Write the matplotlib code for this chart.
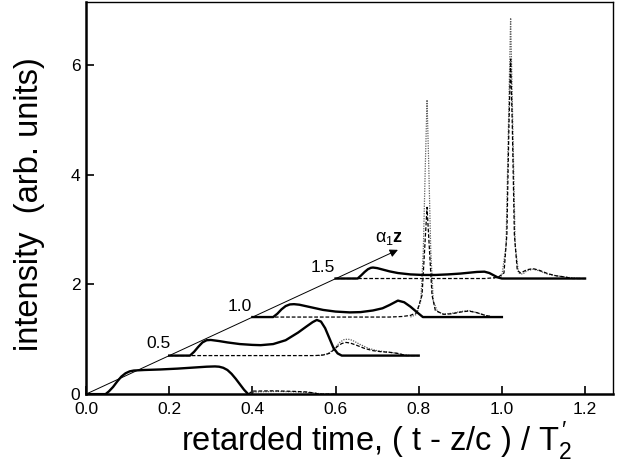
## ============================================================
## 지연시간에 따른 펄스 세기 (z 단계별 오프셋 그래프)
## ============================================================
import numpy as np
import matplotlib
matplotlib.use('Agg')
import matplotlib.pyplot as plt

plt.rcParams['font.family'] = ['Liberation Sans', 'DejaVu Sans']
plt.rcParams['mathtext.fontset'] = 'custom'
plt.rcParams['mathtext.rm'] = 'Liberation Sans'
plt.rcParams['mathtext.it'] = 'Liberation Sans'
plt.rcParams['mathtext.bf'] = 'Liberation Sans:bold'

## ------------------------------------------------------------
## 데이터 (각 z 단계의 국소 시간 t, 세기 v)
## ------------------------------------------------------------
z_values = [0.0, 0.5, 1.0, 1.5]
z_labels = ['', '0.5', '1.0', '1.5']

# z = 0
t0_solid = [0.0, 0.047, 0.055, 0.065, 0.075, 0.085, 0.095, 0.105, 0.115, 0.14, 0.18, 0.22,
            0.26, 0.29, 0.31, 0.32, 0.33, 0.34, 0.35, 0.36, 0.37, 0.38, 0.39]
v0_solid = [0.0, 0.0, 0.05, 0.13, 0.23, 0.32, 0.38, 0.415, 0.43, 0.44, 0.45, 0.465,
            0.485, 0.5, 0.505, 0.5, 0.48, 0.44, 0.37, 0.28, 0.18, 0.08, 0.0]
t0_dash = [0.39, 0.40, 0.45, 0.50, 0.53, 0.55, 0.56, 0.60]
v0_dash = [0.0, 0.055, 0.06, 0.05, 0.04, 0.02, 0.0, 0.0]
t0_dot = [0.39, 0.41, 0.46, 0.51, 0.55, 0.57, 0.60]
v0_dot = [0.0, 0.04, 0.05, 0.04, 0.02, 0.0, 0.0]

# z = 0.5
t1_solid = [0.0, 0.05, 0.06, 0.07, 0.08, 0.09, 0.1, 0.12, 0.14, 0.17, 0.2, 0.22, 0.25,
            0.28, 0.31, 0.33, 0.345, 0.355, 0.365, 0.375, 0.385, 0.395, 0.405, 0.415, 0.6]
v1_solid = [0.0, 0.0, 0.07, 0.16, 0.24, 0.28, 0.285, 0.265, 0.24, 0.21, 0.195, 0.19, 0.21,
            0.28, 0.42, 0.53, 0.61, 0.65, 0.62, 0.5, 0.32, 0.14, 0.04, 0.0, 0.0]
t1_dash = [0.0, 0.35, 0.37, 0.385, 0.395, 0.405, 0.415, 0.425, 0.435, 0.45, 0.47, 0.49,
           0.51, 0.53, 0.55, 0.57, 0.6]
v1_dash = [0.0, 0.0, 0.01, 0.04, 0.1, 0.17, 0.22, 0.24, 0.23, 0.19, 0.13, 0.09,
           0.07, 0.06, 0.04, 0.0, 0.0]
t1_dot = [0.36, 0.38, 0.39, 0.4, 0.41, 0.42, 0.43, 0.44, 0.46, 0.48, 0.5, 0.52, 0.54, 0.56, 0.58]
v1_dot = [0.0, 0.03, 0.08, 0.15, 0.24, 0.29, 0.3, 0.28, 0.2, 0.13, 0.09, 0.07, 0.05, 0.02, 0.0]

# z = 1.0
t2_solid = [0.0, 0.05, 0.06, 0.07, 0.08, 0.09, 0.1, 0.113, 0.14, 0.17, 0.2, 0.234, 0.26,
            0.29, 0.313, 0.33, 0.35, 0.365, 0.38, 0.394, 0.41, 0.6]
v2_solid = [0.0, 0.0, 0.06, 0.14, 0.2, 0.23, 0.235, 0.225, 0.18, 0.13, 0.1, 0.085, 0.09,
            0.12, 0.16, 0.22, 0.3, 0.27, 0.19, 0.1, 0.0, 0.0]
t2_dash = [0.0, 0.33, 0.36, 0.38, 0.395, 0.408, 0.414, 0.42, 0.426, 0.432, 0.44, 0.46,
           0.48, 0.5, 0.52, 0.54, 0.56, 0.58, 0.6]
v2_dash = [0.0, 0.0, 0.01, 0.03, 0.08, 0.4, 1.2, 2.0, 1.2, 0.4, 0.12, 0.05,
           0.06, 0.09, 0.11, 0.08, 0.03, 0.0, 0.0]
t2_dot = [0.38, 0.395, 0.405, 0.411, 0.416, 0.42, 0.424, 0.429, 0.435, 0.445, 0.46, 0.48,
          0.5, 0.52, 0.54, 0.56, 0.58]
v2_dot = [0.0, 0.05, 0.3, 1.2, 2.8, 3.96, 2.8, 1.2, 0.3, 0.1, 0.05, 0.07,
          0.1, 0.12, 0.08, 0.03, 0.0]

# z = 1.5
t3_solid = [0.0, 0.053, 0.062, 0.07, 0.078, 0.085, 0.09, 0.1, 0.115, 0.13, 0.15, 0.18, 0.21,
            0.24, 0.27, 0.3, 0.32, 0.34, 0.358, 0.37, 0.38, 0.39, 0.4, 0.6]
v3_solid = [0.0, 0.0, 0.06, 0.12, 0.17, 0.195, 0.2, 0.19, 0.16, 0.13, 0.1, 0.075, 0.065,
            0.065, 0.075, 0.09, 0.105, 0.12, 0.125, 0.1, 0.06, 0.02, 0.0, 0.0]
t3_dash = [0.0, 0.36, 0.39, 0.405, 0.412, 0.417, 0.421, 0.425, 0.43, 0.437, 0.445, 0.46,
           0.475, 0.49, 0.51, 0.53, 0.55, 0.57, 0.6]
v3_dash = [0.0, 0.0, 0.02, 0.1, 0.8, 2.8, 4.0, 2.8, 0.8, 0.15, 0.1, 0.16,
           0.18, 0.15, 0.09, 0.05, 0.03, 0.0, 0.0]
t3_dot = [0.38, 0.4, 0.41, 0.415, 0.421, 0.427, 0.432, 0.44, 0.45, 0.46, 0.475, 0.49,
          0.51, 0.53, 0.55, 0.57, 0.59]
v3_dot = [0.0, 0.05, 0.6, 2.5, 4.75, 2.5, 0.6, 0.1, 0.08, 0.14, 0.17, 0.14,
          0.08, 0.05, 0.03, 0.01, 0.0]

solid_curves = [(t0_solid, v0_solid), (t1_solid, v1_solid), (t2_solid, v2_solid), (t3_solid, v3_solid)]
dash_curves  = [(t0_dash, v0_dash), (t1_dash, v1_dash), (t2_dash, v2_dash), (t3_dash, v3_dash)]
dot_curves   = [(t0_dot, v0_dot), (t1_dot, v1_dot), (t2_dot, v2_dot), (t3_dot, v3_dot)]

## z 단계별 오프셋 (x: 시간 이동, y: 세기 이동)
x_step = 0.4    # z 1.0 당
y_step = 1.405  # z 1.0 당

## ------------------------------------------------------------
## 그래프
## ------------------------------------------------------------
fig = plt.figure(figsize=(6.21, 4.76), dpi=100)
ax = fig.add_axes([0.1385, 0.172, 0.8485, 0.824])

for z, sol, das, dot in zip(z_values, solid_curves, dash_curves, dot_curves):
    dx, dy = z * x_step, z * y_step
    ax.plot(np.array(dot[0]) + dx, np.array(dot[1]) + dy, color='#606060',
            lw=0.9, dashes=(1, 1))
    ax.plot(np.array(das[0]) + dx, np.array(das[1]) + dy, color='black',
            lw=0.9, dashes=(3, 1.5))
    ax.plot(np.array(sol[0]) + dx, np.array(sol[1]) + dy, color='black', lw=1.7)

# z 방향 화살표
ax.annotate('', xy=(0.75, 2.63), xytext=(0.0, 0.0),
            arrowprops=dict(arrowstyle='-|>', color='black', lw=0.7,
                            mutation_scale=12, shrinkA=0, shrinkB=0))
ax.text(0.728, 2.84, r'$\alpha_1\mathbf{z}$', fontsize=13, ha='center', va='center')

# z 값 라벨
label_pos = [None, (0.175, 0.92), (0.37, 1.6), (0.569, 2.31)]
for lab, pos in zip(z_labels, label_pos):
    if pos is None:
        continue
    ax.text(pos[0], pos[1], lab, fontsize=12.5, ha='center', va='center')

ax.set_xlim(0.0, 1.267)
ax.set_ylim(0.0, 7.15)
ax.set_xticks([0.0, 0.2, 0.4, 0.6, 0.8, 1.0, 1.2])
ax.set_xticklabels(['0.0', '0.2', '0.4', '0.6', '0.8', '1.0', '1.2'])
ax.set_yticks([0, 2, 4, 6])
ax.tick_params(direction='in', length=6, width=1.2, labelsize=12.5)
ax.tick_params(axis='x', pad=6)
ax.tick_params(axis='y', pad=4)

for side in ['left', 'bottom']:
    ax.spines[side].set_linewidth(1.8)
for side in ['top', 'right']:
    ax.spines[side].set_linewidth(1.0)

ax.set_xlabel("retarded time, ( t - z/c ) / T$_2^{\\,\\prime}$", fontsize=23.5)
ax.set_ylabel('intensity  (arb. units)', fontsize=23.5)
ax.xaxis.set_label_coords(0.552, -0.065)
ax.yaxis.set_label_coords(-0.077, 0.485)

fig.savefig('out.png', dpi=100)
